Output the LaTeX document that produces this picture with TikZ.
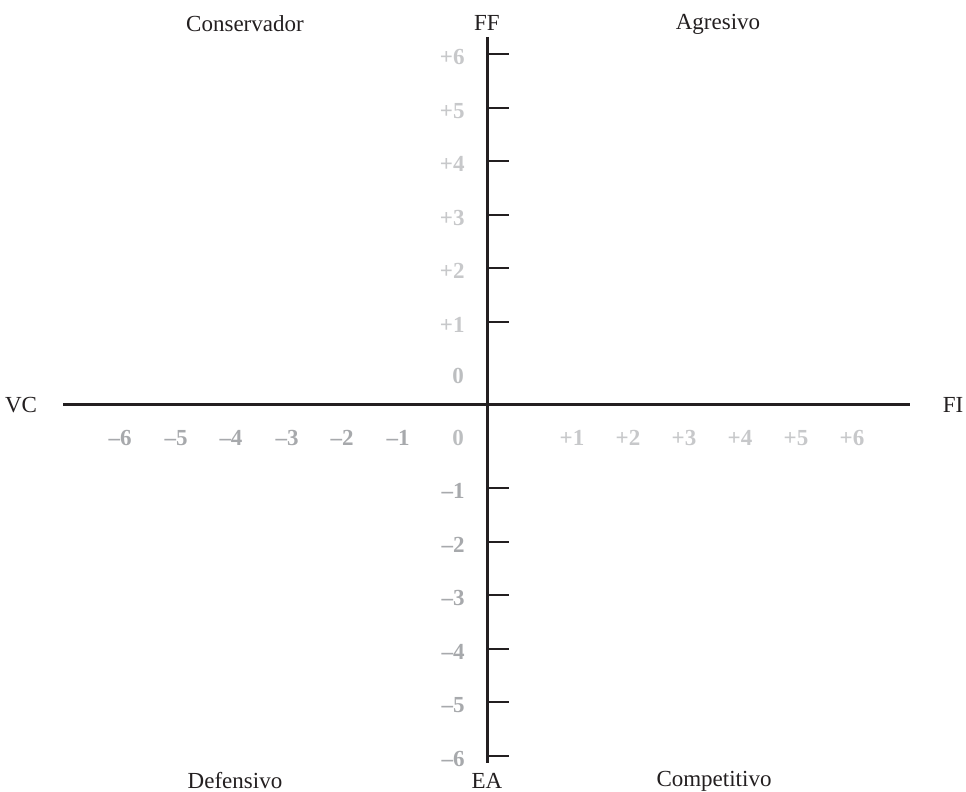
\documentclass[tikz,border=0pt]{standalone}
\usepackage{fontspec}
\setmainfont{Liberation Serif}
\usepackage{tikz}
\definecolor{axisgray}{HTML}{231F20}
\definecolor{poslight}{HTML}{C7C8CA}
\definecolor{negdark}{HTML}{A7A9AC}
\definecolor{zeromid}{HTML}{BCBEC0}
\tikzset{axisline/.style = {draw = axisgray, line width = 1.5pt}}
\tikzset{tickline/.style = {draw = axisgray, line width = 1.4pt}}
\tikzset{poslabel/.style = {text = poslight, font = \fontsize{11.5}{13}\selectfont\bfseries, inner sep = 0pt}}
\tikzset{neglabel/.style = {text = negdark, font = \fontsize{11.5}{13}\selectfont\bfseries, inner sep = 0pt}}
\tikzset{zerolabel/.style = {text = zeromid, font = \fontsize{11.5}{13}\selectfont\bfseries, inner sep = 0pt}}
\tikzset{quadlabel/.style = {text = axisgray, font = \fontsize{11.5}{13}\selectfont, inner sep = 0pt}}

\begin{document}
\begin{tikzpicture}[x = 0.5pt, y = -0.5pt]
			\useasboundingbox (0, 0) rectangle (966, 792);

			\coordinate (top) at (487, 37);
			\coordinate (bottom) at (487, 763);
			\coordinate (left) at (63, 405);
			\coordinate (right) at (910, 405);

			\draw[axisline] (left) -- (right);
			\draw[axisline] (top) -- (bottom);

			\foreach \y in {54, 108, 161, 215, 268, 322, 488, 542, 595, 649, 702, 756}
				\draw[tickline] (487, \y) -- (509, \y);

			\node[quadlabel] (ff) at (487, 23) {FF};
			\node[quadlabel] (ea) at (487, 781) {EA};
			\node[quadlabel] (vc) at (21, 405) {VC};
			\node[quadlabel] (fi) at (953, 405) {FI};
			\node[quadlabel] (cons) at (245, 24) {Conservador};
			\node[quadlabel] (agr) at (718, 24) {Agresivo};
			\node[quadlabel] (def) at (235, 781) {Defensivo};
			\node[quadlabel] (comp) at (714, 781) {Competitivo};

			\node[poslabel, anchor = east] (v6) at (465, 57) {+6};
			\node[poslabel, anchor = east] (v5) at (465, 111) {+5};
			\node[poslabel, anchor = east] (v4) at (465, 164) {+4};
			\node[poslabel, anchor = east] (v3) at (465, 218) {+3};
			\node[poslabel, anchor = east] (v2) at (465, 271) {+2};
			\node[poslabel, anchor = east] (v1) at (465, 325) {+1};
			\node[zerolabel] (vz) at (458, 376) {0};
			\node[neglabel, anchor = east] (vm1) at (465, 491) {--1};
			\node[neglabel, anchor = east] (vm2) at (465, 545) {--2};
			\node[neglabel, anchor = east] (vm3) at (465, 598) {--3};
			\node[neglabel, anchor = east] (vm4) at (465, 652) {--4};
			\node[neglabel, anchor = east] (vm5) at (465, 705) {--5};
			\node[neglabel, anchor = east] (vm6) at (465, 759) {--6};

			\node[neglabel] (hm6) at (120, 438) {--6};
			\node[neglabel] (hm5) at (176, 438) {--5};
			\node[neglabel] (hm4) at (231, 438) {--4};
			\node[neglabel] (hm3) at (287, 438) {--3};
			\node[neglabel] (hm2) at (342, 438) {--2};
			\node[neglabel] (hm1) at (398, 438) {--1};
			\node[zerolabel] (hz) at (458, 438) {0};
			\node[poslabel] (h1) at (572, 438) {+1};
			\node[poslabel] (h2) at (628, 438) {+2};
			\node[poslabel] (h3) at (684, 438) {+3};
			\node[poslabel] (h4) at (740, 438) {+4};
			\node[poslabel] (h5) at (796, 438) {+5};
			\node[poslabel] (h6) at (852, 438) {+6};
		\end{tikzpicture}
\end{document}
